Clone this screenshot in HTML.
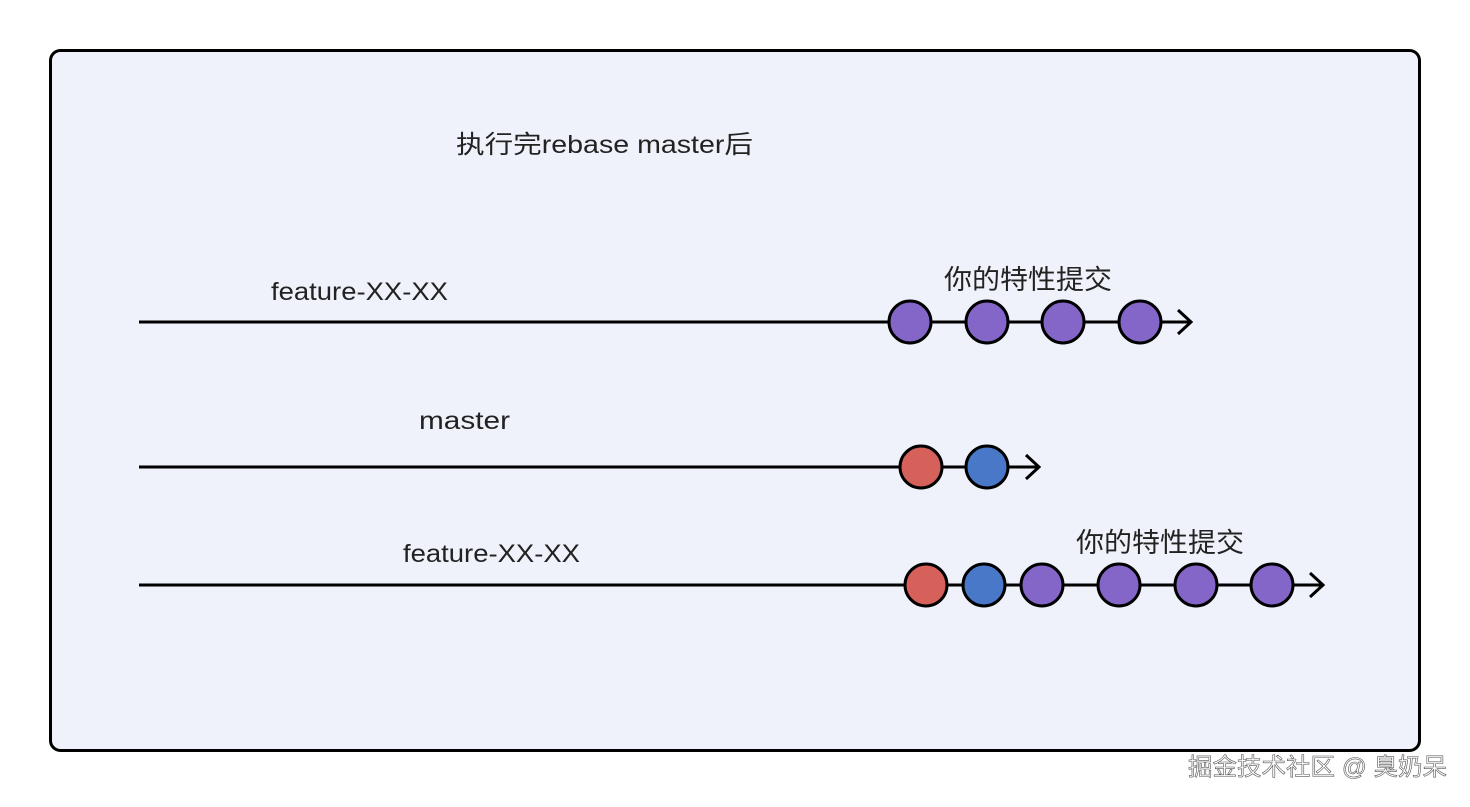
<!DOCTYPE html>
<html><head><meta charset="utf-8"><style>
body{margin:0;background:#fff;width:1470px;height:802px;overflow:hidden}
svg text{font-family:"Liberation Sans","Noto Sans CJK SC",sans-serif;fill:#222}
</style></head><body>
<svg width="1470" height="802" viewBox="0 0 1470 802">
<rect x="50.5" y="50.5" width="1369" height="700" rx="10" fill="#eff2fa" stroke="#000" stroke-width="3"/>
<text x="456" y="153" font-size="25" textLength="297" lengthAdjust="spacingAndGlyphs">执行完rebase master后</text>
<text x="271" y="300" font-size="25" textLength="177" lengthAdjust="spacingAndGlyphs">feature-XX-XX</text>
<text x="944" y="289" font-size="27" textLength="168" lengthAdjust="spacingAndGlyphs">你的特性提交</text>
<text x="419" y="429" font-size="25" textLength="91" lengthAdjust="spacingAndGlyphs">master</text>
<text x="403" y="562" font-size="25" textLength="177" lengthAdjust="spacingAndGlyphs">feature-XX-XX</text>
<text x="1076" y="552" font-size="27" textLength="168" lengthAdjust="spacingAndGlyphs">你的特性提交</text>
<g stroke="#000" stroke-width="3" fill="none">
<line x1="139" y1="322" x2="1190" y2="322"/><polyline points="1178,310 1191,322 1178,334"/>
<line x1="139" y1="467" x2="1038" y2="467"/><polyline points="1026,455 1039,467 1026,479"/>
<line x1="139" y1="585" x2="1322" y2="585"/><polyline points="1310,573 1323,585 1310,597"/>
</g>
<g stroke="#000" stroke-width="3">
<circle cx="910" cy="322" r="21" fill="#8466c8"/>
<circle cx="987" cy="322" r="21" fill="#8466c8"/>
<circle cx="1063" cy="322" r="21" fill="#8466c8"/>
<circle cx="1140" cy="322" r="21" fill="#8466c8"/>
<circle cx="921" cy="467" r="21" fill="#d6605a"/>
<circle cx="987" cy="467" r="21" fill="#4a78c8"/>
<circle cx="926" cy="585" r="21" fill="#d6605a"/>
<circle cx="984" cy="585" r="21" fill="#4a78c8"/>
<circle cx="1042" cy="585" r="21" fill="#8466c8"/>
<circle cx="1119" cy="585" r="21" fill="#8466c8"/>
<circle cx="1196" cy="585" r="21" fill="#8466c8"/>
<circle cx="1272" cy="585" r="21" fill="#8466c8"/>
</g>
<text x="1188" y="775" font-size="24" textLength="259" lengthAdjust="spacingAndGlyphs" style="fill:#fff;stroke:#555;stroke-width:0.6">掘金技术社区 @ 臭奶呆</text>
</svg>
</body></html>
